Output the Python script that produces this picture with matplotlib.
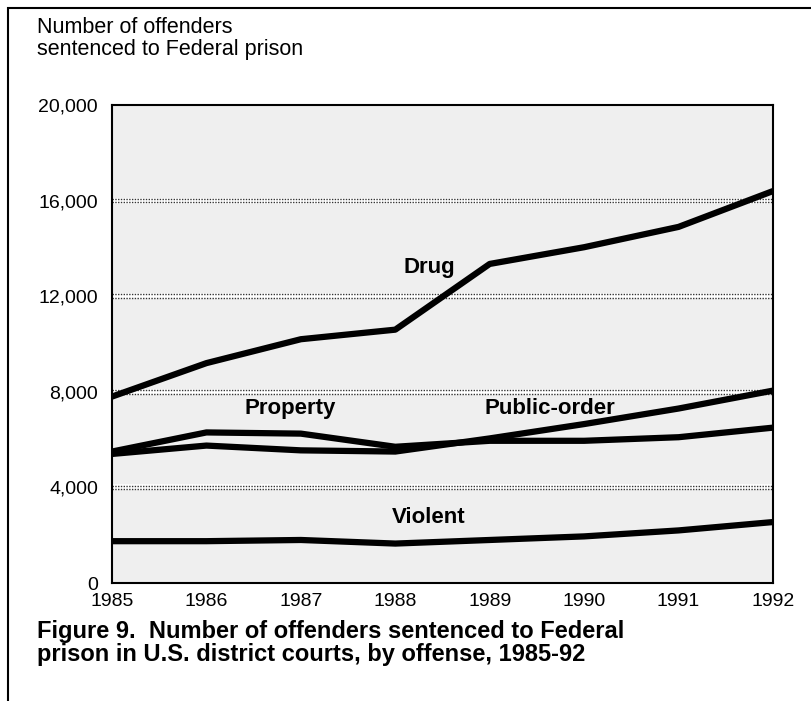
import matplotlib.pyplot as plt
from matplotlib.patches import Rectangle

# Data (number of offenders sentenced to Federal prison)
years = [1985, 1986, 1987, 1988, 1989, 1990, 1991, 1992]
drug = [7800, 9200, 10200, 10600, 13350, 14050, 14900, 16400]
property_ = [5500, 6300, 6250, 5700, 5950, 5950, 6100, 6500]
public_order = [5400, 5750, 5550, 5500, 6050, 6650, 7300, 8050]
violent = [1750, 1750, 1800, 1650, 1800, 1950, 2200, 2550]

y_ticks = [0, 4000, 8000, 12000, 16000, 20000]
y_tick_labels = ['0', '4,000', '8,000', '12,000', '16,000', '20,000']

plt.rcParams['font.family'] = ['Liberation Sans', 'DejaVu Sans']

fig = plt.figure(figsize=(8.12, 7.01), dpi=100)
ax = fig.add_axes([112 / 812, 1 - 583 / 701, (773 - 112) / 812, (583 - 105) / 701])

ax.set_facecolor('#efefef')

# double dotted gridlines
for g in y_ticks[1:-1]:
    ax.axhline(g, color='white', lw=4, zorder=1)
    ax.axhline(g + 75, color='#333333', lw=1, ls=(0, (1, 1)), zorder=2)
    ax.axhline(g - 75, color='#333333', lw=1, ls=(0, (1, 1)), zorder=2)

for series in [drug, property_, public_order, violent]:
    ax.plot(years, series, color='black', lw=4.5, solid_capstyle='butt', zorder=3)

lab = dict(ha='center', va='center', fontsize=16, fontweight='bold', zorder=4)
ax.text(1988.36, 13180, 'Drug', **lab)
ax.text(1986.89, 7320, 'Property', **lab)
ax.text(1989.64, 7320, 'Public-order', **lab)
ax.text(1988.35, 2720, 'Violent', **lab)

ax.set_xlim(1985, 1992)
ax.set_ylim(0, 20000)
ax.set_xticks(years)
ax.set_xticklabels([str(y) for y in years])
ax.set_yticks(y_ticks)
ax.set_yticklabels(y_tick_labels)
ax.tick_params(length=0, labelsize=14)
ax.tick_params(axis='y', pad=10)
ax.tick_params(axis='x', pad=7)
for s in ax.spines.values():
    s.set_linewidth(1.5)

fig.text(37 / 812, 1 - 17 / 701, 'Number of offenders\nsentenced to Federal prison',
         ha='left', va='top', fontsize=15.5, linespacing=1.05)
fig.text(37 / 812, 1 - 620 / 701,
         'Figure 9.  Number of offenders sentenced to Federal\nprison in U.S. district courts, by offense, 1985-92',
         ha='left', va='top', fontsize=17, fontweight='bold', linespacing=1.0)

# outer frame
fig.patches.append(Rectangle((8 / 812, -0.05), 1.1, 1 - 8 / 701 + 0.05, transform=fig.transFigure,
                             fill=False, edgecolor='black', lw=1.5))

plt.savefig('out.png', dpi=100)
